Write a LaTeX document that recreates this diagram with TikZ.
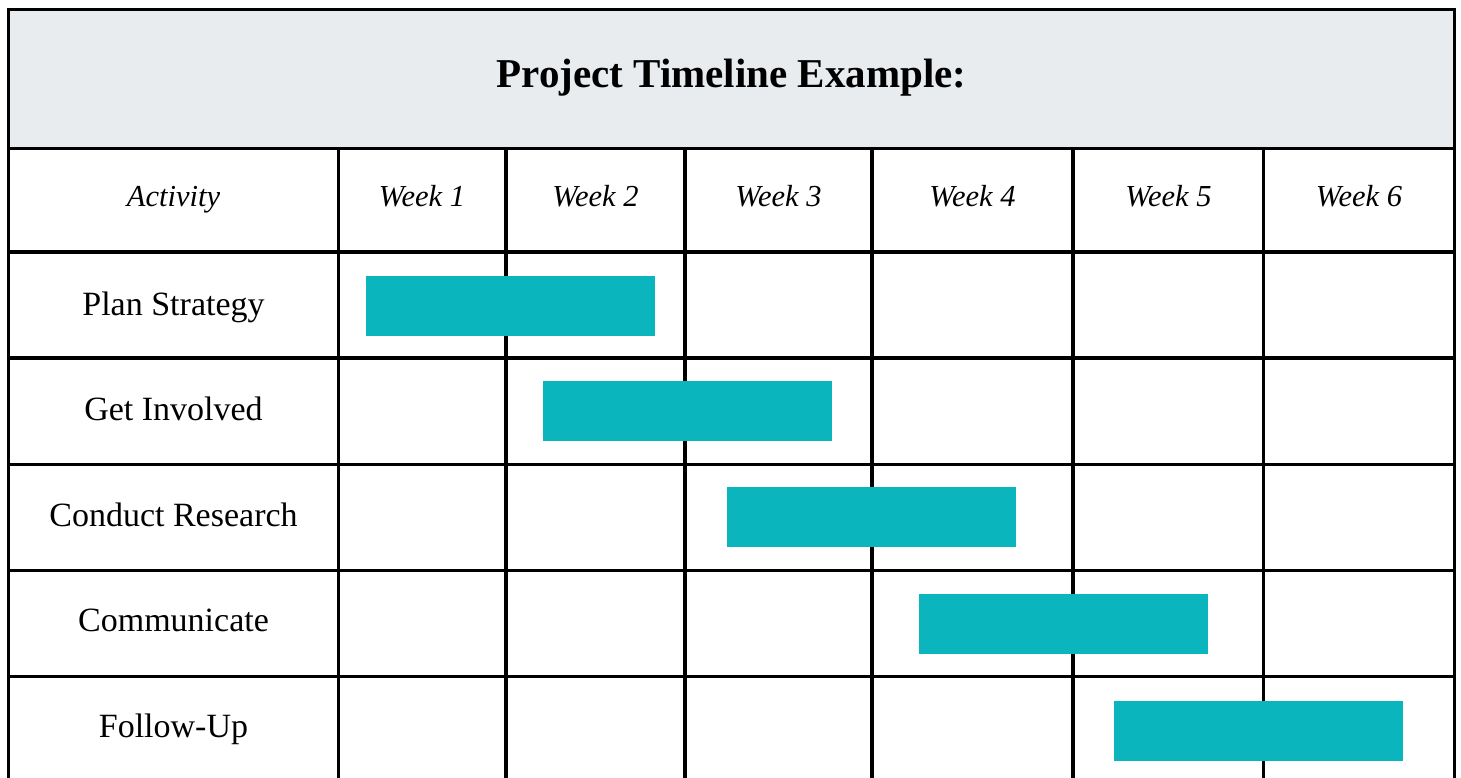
\documentclass[tikz,border=0pt]{standalone}
\usepackage{fontspec}
\setmainfont{Liberation Serif}
\definecolor{titlefill}{HTML}{E8ECEF}
\definecolor{barteal}{HTML}{0AB5BE}
\tikzset{
  grid line/.style={line width=3.8pt, black},
  title text/.style={font=\fontsize{41}{48}\selectfont\bfseries, anchor=base, inner sep=0pt},
  head text/.style={font=\fontsize{30.5}{36}\selectfont\itshape, anchor=base, inner sep=0pt},
  task text/.style={font=\fontsize{34}{40}\selectfont, anchor=base, inner sep=0pt},
  taskbar/.style={fill=barteal, draw=none, inner sep=0pt, minimum width=289pt, minimum height=59.5pt, anchor=north west},
}
\begin{document}
\begin{tikzpicture}[x=1pt, y=-1pt]
  \useasboundingbox (0,0) rectangle (1461,778);
  \clip (0,0) rectangle (1461,778);
  \fill[white] (0,0) rectangle (1461,778);

  % title band
  \fill[titlefill] (8.5,9.5) rectangle (1454.5,148.5);
  \node[title text] (title) at (731.5,87.5) {Project Timeline Example:};

  % grid
  \draw[grid line] (8.5,800) -- (8.5,9.5) -- (1454.5,9.5) -- (1454.5,800);
  \foreach \y in {148.5,252,358,464.5,570.5,676.5}
    \draw[grid line] (8.5,\y) -- (1454.5,\y);
  \foreach \x in {338.5,506,685,872,1073,1263.5}
    \draw[grid line] (\x,148.5) -- (\x,800);

  % bars, drawn over the grid
  \node[taskbar] (bar1) at (366,276) {};
  \node[taskbar] (bar2) at (543,381) {};
  \node[taskbar] (bar3) at (727,487) {};
  \node[taskbar] (bar4) at (919,594) {};
  \node[taskbar] (bar5) at (1114,701) {};

  % column headings
  \node[head text] (hact) at (173.5,206.5) {Activity};
  \node[head text] (hw1) at (422,206.5) {Week 1};
  \node[head text] (hw2) at (595.5,206.5) {Week 2};
  \node[head text] (hw3) at (778.5,206.5) {Week 3};
  \node[head text] (hw4) at (972.5,206.5) {Week 4};
  \node[head text] (hw5) at (1168.5,206.5) {Week 5};
  \node[head text] (hw6) at (1359,206.5) {Week 6};

  % activities
  \node[task text] (t1) at (173.5,315.3) {Plan Strategy};
  \node[task text] (t2) at (173.5,420.8) {Get Involved};
  \node[task text] (t3) at (173.5,526.3) {Conduct Research};
  \node[task text] (t4) at (173.5,631.8) {Communicate};
  \node[task text] (t5) at (173.5,737.3) {Follow-Up};
\end{tikzpicture}
\end{document}
